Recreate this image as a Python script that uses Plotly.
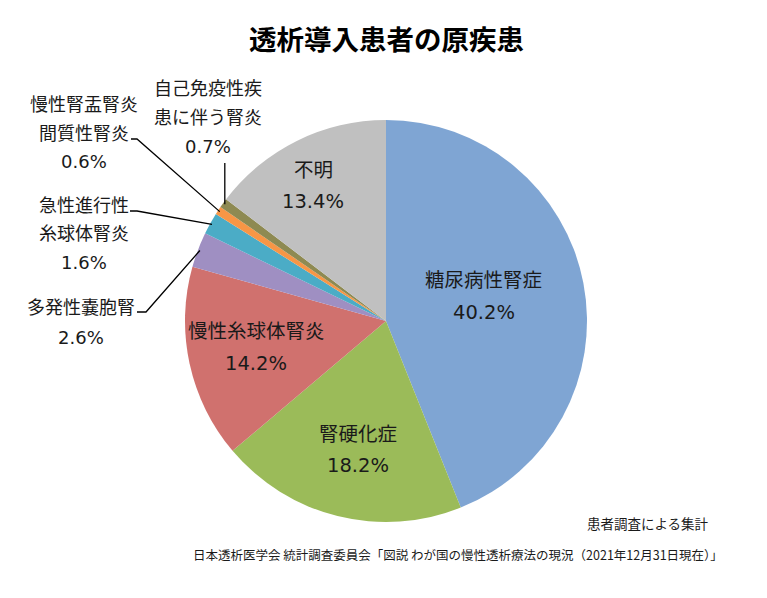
"""Pie chart: primary diseases of patients newly starting dialysis (JSDT 2021)."""

import math

import plotly.graph_objects as go

TITLE = "透析導入患者の原疾患"
CAUSES = [
    "糖尿病性腎症",
    "腎硬化症",
    "慢性糸球体腎炎",
    "多発性嚢胞腎",
    "急性進行性糸球体腎炎",
    "慢性腎盂腎炎間質性腎炎",
    "自己免疫性疾患に伴う腎炎",
    "不明",
]
SHARES = [40.2, 18.2, 14.2, 2.6, 1.6, 0.6, 0.7, 13.4]
COLORS = ["#7FA5D3", "#9BBB59", "#D0716E", "#9F8FC2", "#4BACC6", "#F79646", "#8E8A52", "#C0C0C0"]

# how each name is printed on the chart
SLICE_NAMES = {
    0: ["糖尿病性腎症"],
    1: ["腎硬化症"],
    2: ["慢性糸球体腎炎"],
    3: ["多発性嚢胞腎"],
    4: ["急性進行性", "糸球体腎炎"],
    5: ["慢性腎盂腎炎", "間質性腎炎"],
    6: ["自己免疫性疾", "患に伴う腎炎"],
    7: ["不明"],
}
NOTE = "患者調査による集計"
SOURCE = "日本透析医学会 統計調査委員会「図説 わが国の慢性透析療法の現況（2021年12月31日現在）」"

W, H = 767, 598
BODY = 8  # default page margin around the plot div
FW, FH = W - 2 * BODY, H - 2 * BODY
FONT = "DejaVu Sans, Noto Sans CJK JP, sans-serif"
CJK = "Noto Sans CJK JP, sans-serif"
CX, CY, R = 386, 321, 201  # pie centre / radius in window pixels

# label placement in window pixels: text centre x, first line y, line gap,
# and for outside labels the leader path after the slice edge
LABEL_LAYOUT = {
    0: {"x": 484, "y": 280, "gap": 32},
    1: {"x": 358, "y": 434, "gap": 31},
    2: {"x": 256, "y": 331, "gap": 32},
    7: {"x": 313, "y": 170, "gap": 32},
    3: {"x": 81, "y": 308, "gap": 29, "path": [(146, 312), (137, 312)]},
    4: {"x": 84, "y": 205, "gap": 28.5, "path": [(137, 211), (130, 211)]},
    5: {"x": 84, "y": 105, "gap": 28.5, "path": [(137, 139), (131, 139)]},
    6: {"x": 208, "y": 89, "gap": 28.5, "path": [(None, 163)]},
}


def px(x, y):
    return (x - BODY) / FW, 1 - (y - BODY) / FH


def build_figure():
    fig = go.Figure(
        go.Pie(
            labels=CAUSES,
            values=SHARES,
            textinfo="none",
            marker={"colors": COLORS, "line": {"width": 0}},
            sort=False,
            direction="clockwise",
            rotation=0,
            showlegend=False,
            hoverinfo="label+value",
            domain={
                "x": [px(CX - R, 0)[0], px(CX + R, 0)[0]],
                "y": [px(0, CY + R)[1], px(0, CY - R)[1]],
            },
        )
    )

    total = sum(SHARES)
    cum = 0.0
    mids = []
    for v in SHARES:
        mids.append((cum + v / 2) / total * 2 * math.pi)
        cum += v

    annotations = []
    shapes = []
    for i, lines in SLICE_NAMES.items():
        spec = LABEL_LAYOUT[i]
        inside = "path" not in spec
        size = 19.5 if inside else 18
        for k, line in enumerate(lines + [f"{SHARES[i]:.1f}%"]):
            x, y = px(spec["x"], spec["y"] + k * spec["gap"])
            annotations.append(
                dict(
                    x=x, y=y, xref="paper", yref="paper", text=line, showarrow=False,
                    xanchor="center", yanchor="middle",
                    font={"family": FONT, "size": size, "color": "#1a1a1a"},
                )
            )
        if inside:
            continue
        a = mids[i]
        sx = CX + (R - 2) * math.sin(a)
        sy = CY - (R - 2) * math.cos(a)
        pts = [(sx, sy)] + [(sx if p[0] is None else p[0], p[1]) for p in spec["path"]]
        path = "M " + " L ".join("{},{}".format(*px(*p)) for p in pts)
        shapes.append(
            dict(type="path", path=path, xref="paper", yref="paper",
                 line={"color": "#000000", "width": 1.3})
        )

    annotations += [
        dict(x=px(386, 38)[0], y=px(386, 38)[1], xref="paper", yref="paper", text=f"<b>{TITLE}</b>",
             showarrow=False, xanchor="center", yanchor="middle",
             font={"family": CJK, "size": 27.5, "color": "#000000"}),
        dict(x=px(711, 523)[0], y=px(711, 523)[1], xref="paper", yref="paper", text=NOTE,
             showarrow=False, xanchor="right", yanchor="middle",
             font={"family": CJK, "size": 13.5, "color": "#1a1a1a"}),
        dict(x=px(725, 554)[0], y=px(725, 554)[1], xref="paper", yref="paper", text=SOURCE,
             showarrow=False, xanchor="right", yanchor="middle",
             font={"family": CJK, "size": 12.5, "color": "#1a1a1a"}),
    ]

    fig.update_layout(
        width=FW,
        height=FH,
        margin={"l": 0, "r": 0, "t": 0, "b": 0},
        paper_bgcolor="#ffffff",
        plot_bgcolor="#ffffff",
        annotations=annotations,
        shapes=shapes,
        font={"family": FONT},
    )
    return fig


fig = build_figure()
fig.write_html("out.html")
